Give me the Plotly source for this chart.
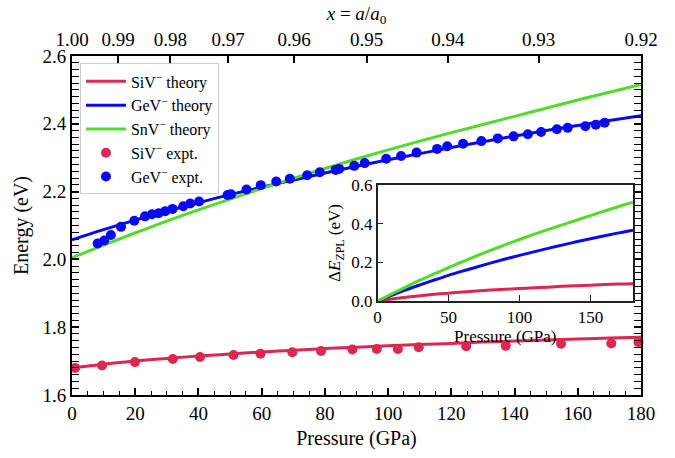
import plotly.graph_objects as go

# ---------------- data ----------------
pressure_grid = [0, 10, 20, 30, 40, 50, 60, 70, 80, 90, 100, 110, 120, 130, 140, 150, 160, 170, 180]
siv_dE = [0, 0.011, 0.020, 0.028, 0.035, 0.041, 0.047, 0.052, 0.057, 0.061, 0.065,
          0.069, 0.072, 0.076, 0.079, 0.082, 0.085, 0.088, 0.090]
gev_dE = [0, 0.030, 0.058, 0.084, 0.109, 0.133, 0.155, 0.176, 0.197, 0.217, 0.236,
          0.254, 0.272, 0.289, 0.306, 0.322, 0.337, 0.352, 0.366]
snv_dE = [0, 0.037, 0.073, 0.108, 0.141, 0.173, 0.204, 0.234, 0.263, 0.291, 0.318,
          0.344, 0.369, 0.393, 0.417, 0.441, 0.465, 0.488, 0.511]
siv_E0 = 1.680
gev_E0 = 2.058
snv_E0 = 2.005

siv_expt_p = [1.0, 9.5, 19.9, 31.9, 40.5, 51.1, 59.6, 69.7, 78.8, 88.7, 96.4, 103.1,
              109.7, 124.7, 137.2, 154.7, 170.6, 179.2]
siv_expt_E = [1.680, 1.687, 1.697, 1.706, 1.712, 1.718, 1.722, 1.726, 1.730, 1.734, 1.736,
              1.736, 1.741, 1.744, 1.745, 1.751, 1.752, 1.756]

gev_expt_p = [8.1, 10.2, 12.3, 15.5, 19.7, 23.1, 25.3, 27.4, 29.5, 31.8, 35.2, 37.4, 40.2,
              49.2, 50.3, 55.2, 59.7, 64.6, 68.9, 74.4, 78.4, 83.4, 84.5, 89.3, 92.6,
              99.4, 104.1, 109.0, 115.5, 118.7, 123.7, 129.5, 134.7, 139.7, 144.2, 148.4,
              153.4, 156.8, 162.4, 165.7, 168.5]
gev_expt_E = [2.047, 2.056, 2.072, 2.096, 2.114, 2.127, 2.133, 2.136, 2.142, 2.149, 2.157,
              2.165, 2.171, 2.190, 2.192, 2.206, 2.219, 2.230, 2.238, 2.248, 2.257, 2.264,
              2.267, 2.276, 2.284, 2.297, 2.305, 2.315, 2.326, 2.334, 2.341, 2.349, 2.357,
              2.363, 2.369, 2.376, 2.384, 2.388, 2.393, 2.397, 2.403]

# top axis: lattice ratio x = a/a0 and the pressure it corresponds to
top_tick_labels = ["1.00", "0.99", "0.98", "0.97", "0.96", "0.95", "0.94", "0.93", "0.92"]
top_tick_pressure = [0, 14.6, 31.1, 49.4, 70.3, 93.2, 118.9, 147.6, 180]

labels = ["SiV<sup>\u2212</sup> theory", "GeV<sup>\u2212</sup> theory", "SnV<sup>\u2212</sup> theory",
          "SiV<sup>\u2212</sup> expt.", "GeV<sup>\u2212</sup> expt."]

# ---------------- style ----------------
RED = "#DC2850"
BLUE = "#0A0AF0"
GREEN = "#50DC28"
FONT = "'Liberation Serif', 'Times New Roman', 'DejaVu Serif', serif"

fig = go.Figure()

theory = [(siv_E0, siv_dE, RED), (gev_E0, gev_dE, BLUE), (snv_E0, snv_dE, GREEN)]
for i, (e0, de, col) in enumerate(theory):
    fig.add_trace(go.Scatter(
        x=pressure_grid, y=[e0 + d for d in de], mode="lines", name=labels[i],
        line=dict(color=col, width=3, shape="spline"), xaxis="x", yaxis="y"))

fig.add_trace(go.Scatter(x=siv_expt_p, y=siv_expt_E, mode="markers", name=labels[3],
                         marker=dict(color=RED, size=10), xaxis="x", yaxis="y", cliponaxis=False))
fig.add_trace(go.Scatter(x=gev_expt_p, y=gev_expt_E, mode="markers", name=labels[4],
                         marker=dict(color=BLUE, size=10), xaxis="x", yaxis="y"))

# inset traces
for e0, de, col in theory:
    fig.add_trace(go.Scatter(x=pressure_grid, y=de, mode="lines", showlegend=False,
                             line=dict(color=col, width=3, shape="spline"),
                             xaxis="x3", yaxis="y3"))

tickfont = dict(family=FONT, size=19, color="black")
fig.update_layout(
    width=675, height=458,
    margin=dict(l=72, r=34, t=55, b=55),
    paper_bgcolor="white", plot_bgcolor="white",
    font=dict(family=FONT, color="black"),
    showlegend=True,
    legend=dict(x=0.014, y=0.978, xanchor="left", yanchor="top",
                bgcolor="rgba(255,255,255,0.85)", bordercolor="#cccccc", borderwidth=1,
                font=dict(family=FONT, size=16, color="black"),
                itemwidth=40, tracegroupgap=0),
    xaxis=dict(domain=[0, 1], range=[0, 180], dtick=20, tick0=0,
               ticks="inside", ticklen=7, tickwidth=1.5, tickcolor="black",
               showline=True, linecolor="black", linewidth=2, mirror=False,
               showgrid=False, zeroline=False, tickfont=tickfont,
               minor=dict(dtick=5, ticks="inside", ticklen=4, tickwidth=1.2, tickcolor="black"),
               title=dict(text="Pressure (GPa)", font=dict(family=FONT, size=20), standoff=8),
               anchor="y"),
    yaxis=dict(domain=[0, 1], range=[1.6, 2.6], dtick=0.2, tick0=1.6, tickformat=".1f",
               ticks="inside", ticklen=7, tickwidth=1.5, tickcolor="black",
               showline=True, linecolor="black", linewidth=2, mirror="allticks",
               showgrid=False, zeroline=False, tickfont=tickfont,
               minor=dict(dtick=0.02, ticks="inside", ticklen=4, tickwidth=1.2, tickcolor="black"),
               title=dict(text="Energy (eV)", font=dict(family=FONT, size=20), standoff=8),
               anchor="x"),
    xaxis2=dict(overlaying="x", side="top", range=[0, 180], tickmode="array",
                tickvals=top_tick_pressure, ticktext=top_tick_labels,
                ticks="inside", ticklen=7, tickwidth=1.5, tickcolor="black",
                showline=True, linecolor="black", linewidth=2,
                showgrid=False, zeroline=False, tickfont=tickfont, anchor="y",
                title=dict(text="<i>x</i> = <i>a</i>/<i>a</i><sub>0</sub>",
                           font=dict(family=FONT, size=19), standoff=4)),
    xaxis3=dict(domain=[0.537, 0.986], range=[0, 180], tickmode="array",
                tickvals=[0, 50, 100, 150], ticks="inside", ticklen=6, tickwidth=1.2,
                tickcolor="#222", showline=True, linecolor="#222", linewidth=1.5, mirror=True,
                showgrid=False, zeroline=False, anchor="y3",
                tickfont=dict(family=FONT, size=17, color="black"),
                title=dict(text="Pressure (GPa)", font=dict(family=FONT, size=17), standoff=0)),
    yaxis3=dict(domain=[0.277, 0.62], range=[0, 0.6], dtick=0.2, tickformat=".1f",
                ticks="inside", ticklen=6, tickwidth=1.2, tickcolor="#222",
                showline=True, linecolor="#222", linewidth=1.5, mirror=True,
                showgrid=False, zeroline=False, anchor="x3",
                tickfont=dict(family=FONT, size=17, color="black"),
                title=dict(text="\u0394<i>E</i><sub>ZPL</sub> (eV)",
                           font=dict(family=FONT, size=17), standoff=6)),
)

# invisible trace to activate the top axis
fig.add_trace(go.Scatter(x=[0, 180], y=[1.6, 1.6], mode="lines", line=dict(width=0),
                         showlegend=False, hoverinfo="skip", xaxis="x2", yaxis="y"))

fig.write_html("out.html")
